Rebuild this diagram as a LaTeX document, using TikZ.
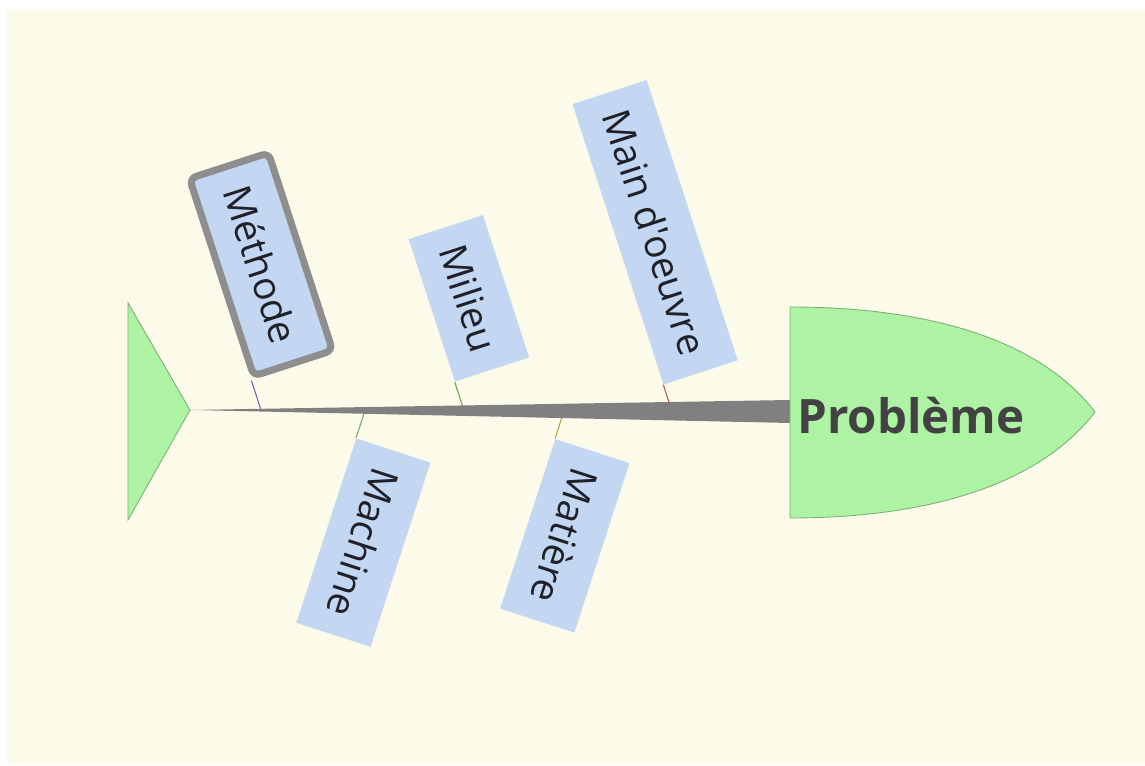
\documentclass[tikz,border=0pt]{standalone}
\usepackage{fontspec}
\setmainfont{Open Sans}[Ligatures=TeXOff]
\usetikzlibrary{calc}
\definecolor{paper}{HTML}{FCFBEA}
\definecolor{causefill}{HTML}{C3D6F2}
\definecolor{causetext}{HTML}{202028}
\definecolor{fishgreen}{HTML}{AEF2A3}
\definecolor{fishedge}{HTML}{7DB078}
\definecolor{spinegray}{HTML}{808080}
\definecolor{selgray}{HTML}{8E8E8E}
\definecolor{titlegray}{HTML}{424242}
\definecolor{bonemeth}{HTML}{6A62C0}
\definecolor{bonemach}{HTML}{78A868}
\definecolor{bonemil}{HTML}{6CA050}
\definecolor{bonemat}{HTML}{A0A850}
\definecolor{bonemain}{HTML}{A85A50}
\tikzset{
  causebox/.style={fill=causefill, text=causetext, minimum height=1.56cm,
    inner xsep=0.4cm, font=\fontsize{22}{26}\selectfont},
  upcause/.style={causebox, rotate=-72, anchor=south east},
  downcause/.style={causebox, rotate=-108, anchor=south west},
  selected/.style={draw=selgray, line width=4pt, rounded corners=4pt,
    minimum height=1.66cm, inner xsep=0.45cm},
  bone/.style={line width=0.6pt},
  fishpart/.style={fill=fishgreen, draw=fishedge, line width=0.5pt}
}

\begin{document}
\begin{tikzpicture}
    \fill[white] (0,0) rectangle (22.9,15.3);
    \fill[paper] (0.14,0) rectangle (22.9,15.12);
    \useasboundingbox (0,0) rectangle (22.9,15.3);
    % points where the bones leave the spine
    \coordinate (tailtip) at (3.8,7.1);
    \coordinate (headtop) at (15.8,7.3);
    \coordinate (headbot) at (15.8,6.84);
    \coordinate (b-meth) at (5.22,7.1);
    \coordinate (b-mach) at (7.3,7.09);
    \coordinate (b-mil) at (9.28,7.09);
    \coordinate (b-mat) at (11.28,7.08);
    \coordinate (b-main) at (13.44,7.07);
    \node[upcause, selected] (meth) at ($(b-meth)+(108:0.62)$) {Méthode};
    \node[upcause] (mil) at ($(b-mil)+(108:0.6)$) {Milieu};
    \node[upcause] (main) at ($(b-main)+(108:0.56)$) {Main d'oeuvre};
    \node[downcause] (mach) at ($(b-mach)+(-108:0.58)$) {Machine};
    \node[downcause] (mat) at ($(b-mat)+(-108:0.58)$) {Matière};
    \draw[bone, bonemeth] (b-meth) -- (meth.south east);
    \draw[bone, bonemil] (b-mil) -- (mil.south east);
    \draw[bone, bonemain] (b-main) -- (main.south east);
    \draw[bone, bonemach] (b-mach) -- (mach.south west);
    \draw[bone, bonemat] (b-mat) -- (mat.south west);
    \fill[spinegray] (tailtip) -- (headtop) -- (headbot) -- cycle;
    \draw[fishpart] (2.56,9.24) -- (tailtip) -- (2.56,4.9) -- cycle;
    \draw[fishpart] (15.8,9.16) .. controls (18.6,9.16) and (20.8,8.5) .. (21.9,7.06)
      .. controls (20.8,5.62) and (18.6,4.94) .. (15.8,4.94) -- cycle;
    \node[font=\bfseries\fontsize{27}{32}\selectfont, text=titlegray, anchor=base] (prob) at (18.22,6.62) {Problème};
\end{tikzpicture}
\end{document}
